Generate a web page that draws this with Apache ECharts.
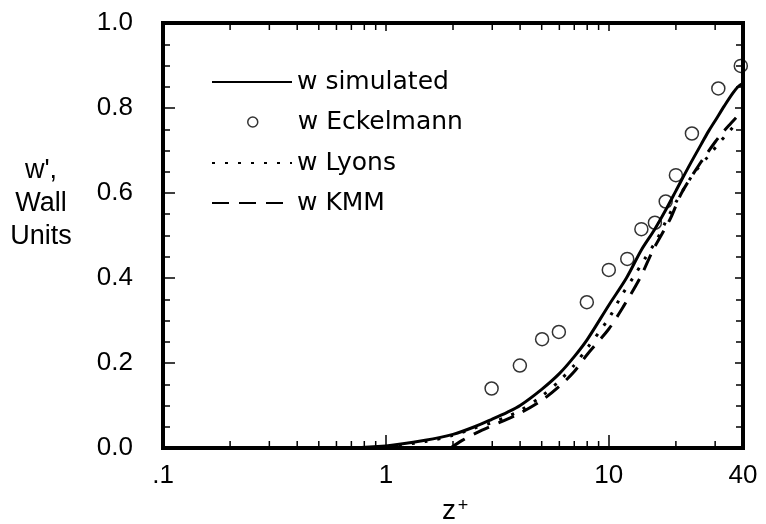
<!DOCTYPE html>
<html>
<head>
<meta charset="utf-8">
<script src="https://cdn.jsdelivr.net/npm/echarts@6/dist/echarts.min.js"></script>
<style>html,body{margin:0;padding:0;background:#fff;}#c{width:766px;height:524px;}</style>
</head>
<body>
<div id="c"></div>
<script>
// ---- data ----
const seriesNames = ['w simulated', 'w Eckelmann', 'w Lyons', 'w KMM'];

const simZ = [0.1, 0.3, 0.6, 1.0, 1.5, 2.0, 2.5, 3.0, 3.5, 4.0, 5.0, 6.0, 7.0, 8.0, 10, 12, 14, 16, 18, 20, 23, 26, 28, 30, 33, 36, 38, 40];
const simW = [0.0, 0.0, 0.0, 0.005, 0.018, 0.032, 0.05, 0.068, 0.084, 0.10, 0.138, 0.175, 0.215, 0.255, 0.336, 0.40, 0.466, 0.513, 0.56, 0.605, 0.665, 0.715, 0.745, 0.77, 0.805, 0.835, 0.85, 0.858];

const ekZ = [2.98, 3.99, 5.02, 5.97, 7.97, 10.0, 12.1, 14.0, 16.1, 18.0, 20.0, 23.6, 31.0, 39.1];
const ekW = [0.140, 0.194, 0.256, 0.273, 0.343, 0.419, 0.445, 0.515, 0.530, 0.580, 0.642, 0.740, 0.846, 0.899];

const lyZ = [1.0, 1.5, 2.0, 2.5, 3.0, 3.5, 4.0, 5.0, 6.0, 7.0, 8.0, 10, 11.3, 13, 14.5, 16.4, 18.1, 20, 22, 24.2, 27.8, 31.3, 34, 37.5];
const lyW = [0.003, 0.015, 0.03, 0.047, 0.06, 0.074, 0.088, 0.122, 0.158, 0.195, 0.235, 0.305, 0.355, 0.405, 0.445, 0.49, 0.535, 0.578, 0.615, 0.648, 0.685, 0.718, 0.74, 0.765];

const kmmZ = [1.95, 2.2, 2.7, 3.3, 4.0, 5.0, 6.0, 7.0, 8.0, 10, 11.6, 13.9, 15.8, 18.9, 21.2, 26, 30, 32.6, 35, 38, 40];
const kmmW = [0.0, 0.018, 0.042, 0.062, 0.082, 0.112, 0.145, 0.18, 0.22, 0.28, 0.332, 0.403, 0.466, 0.54, 0.6, 0.674, 0.72, 0.744, 0.762, 0.782, 0.795];

const xMinorTicks = [0.2, 0.3, 0.4, 0.5, 0.6, 0.7, 0.8, 0.9, 2, 3, 4, 5, 6, 7, 8, 9, 20, 30];
const yTickLabels = ['0.0', '0.2', '0.4', '0.6', '0.8', '1.0'];
const yAxisTitle = "w',\nWall\nUnits";
const xAxisTitle = 'z';
const xAxisTitleSup = '+';

// ---- chart ----
const zip = (a, b) => a.map((v, i) => [v, b[i]]);
const FONT = 'Liberation Sans, Arial, sans-serif';
const BLACK = '#000';

const chart = echarts.init(document.getElementById('c'), null, { renderer: 'canvas' });

function xAxisCfg(pos, showLabel) {
  return {
    type: 'log', logBase: 10, min: 0.1, max: 40, position: pos,
    axisLine: { show: true, onZero: false, lineStyle: { color: BLACK, width: 4, cap: 'square' } },
    axisTick: { show: true, inside: true, length: pos === 'bottom' ? 13 : 8, lineStyle: { color: BLACK, width: 1.5 } },
    axisLabel: {
      show: showLabel, margin: 15, color: BLACK, fontSize: 26, fontFamily: FONT,
      showMinLabel: true, showMaxLabel: true,
      formatter: v => (v < 0.5 ? '.1' : String(Math.round(v)))
    },
    splitLine: { show: false }, minorTick: { show: false }
  };
}
function yAxisCfg(pos, showLabel) {
  return {
    type: 'value', min: 0, max: 1, interval: 0.2, position: pos,
    axisLine: { show: true, onZero: false, lineStyle: { color: BLACK, width: 4, cap: 'square' } },
    axisTick: { show: true, inside: true, length: pos === 'left' ? 12 : 8, lineStyle: { color: BLACK, width: 1.5 } },
    minorTick: { show: true, splitNumber: 4, length: 7, lineStyle: { color: BLACK, width: 1.5 } },
    axisLabel: {
      show: showLabel, margin: 30, color: BLACK, fontSize: 26, fontFamily: FONT,
      formatter: v => yTickLabels[Math.round(v / 0.2)]
    },
    splitLine: { show: false }
  };
}

const legendTops = [82, 122, 163, 203];
const legends = seriesNames.map((n, i) => {
  const isScatter = i === 1;
  return {
    data: [isScatter ? { name: n, icon: 'circle' } : n],
    left: isScatter ? 247 : 211, top: legendTops[i] - 14, padding: 0,
    itemWidth: 80, itemHeight: 10, selectedMode: false,
    itemStyle: isScatter ? { color: 'rgba(255,255,255,0)', borderColor: BLACK, borderWidth: 1.5 } : { opacity: 0 },
    textStyle: { color: BLACK, fontSize: 25, fontFamily: 'DejaVu Sans, sans-serif', lineHeight: 28 }
  };
});

chart.setOption({
  animation: false,
  backgroundColor: '#fff',
  grid: { left: 163, right: 23, top: 23, bottom: 76, containLabel: false },
  legend: legends,
  xAxis: [xAxisCfg('bottom', true), xAxisCfg('top', false)],
  yAxis: [yAxisCfg('left', true), yAxisCfg('right', false)],
  graphic: [
    { type: 'text', x: 41, y: 204,
      style: { text: yAxisTitle, fill: BLACK, font: '27px ' + FONT, textAlign: 'center', textVerticalAlign: 'middle', lineHeight: 33 } },
    { type: 'text', x: 449, y: 511, style: { text: xAxisTitle, fill: BLACK, font: '28px ' + FONT, textAlign: 'center', textVerticalAlign: 'middle' } },
    { type: 'text', x: 463, y: 506, style: { text: xAxisTitleSup, fill: BLACK, font: '18px ' + FONT, textAlign: 'center', textVerticalAlign: 'middle' } }
  ],
  series: [
    { name: seriesNames[0], type: 'line', data: zip(simZ, simW), symbol: 'none', showSymbol: false, smooth: 0.3,
      lineStyle: { color: BLACK, width: 3 }, itemStyle: { color: BLACK }, z: 3 },
    { name: seriesNames[1], type: 'scatter', data: zip(ekZ, ekW), symbol: 'circle', symbolSize: 13, clip: false,
      itemStyle: { color: 'rgba(255,255,255,0)', borderColor: BLACK, borderWidth: 1.5 }, z: 4 },
    { name: seriesNames[2], type: 'line', data: zip(lyZ, lyW), symbol: 'none', showSymbol: false, smooth: 0.3,
      lineStyle: { color: BLACK, width: 3, type: [3, 10] }, itemStyle: { color: BLACK }, z: 3 },
    { name: seriesNames[3], type: 'line', data: zip(kmmZ, kmmW), symbol: 'none', showSymbol: false, smooth: 0.3,
      lineStyle: { color: BLACK, width: 3, type: [17, 10] }, itemStyle: { color: BLACK }, z: 3 },
    { type: 'custom', coordinateSystem: 'cartesian2d', xAxisIndex: 0, yAxisIndex: 0, silent: true, clip: false,
      data: xMinorTicks.map(v => [v, 0]),
      encode: { x: 0, y: 1 },
      renderItem: function (params, api) {
        const v = api.value(0);
        const b = api.coord([v, 0]);
        const t = api.coord([v, 1]);
        const st = { stroke: BLACK, lineWidth: 1.5 };
        return { type: 'group', children: [
          { type: 'line', shape: { x1: b[0], y1: b[1], x2: b[0], y2: b[1] - 7 }, style: st },
          { type: 'line', shape: { x1: t[0], y1: t[1], x2: t[0], y2: t[1] + 7 }, style: st }
        ] };
      }, z: 1 }
  ]
});
</script>
</body>
</html>
